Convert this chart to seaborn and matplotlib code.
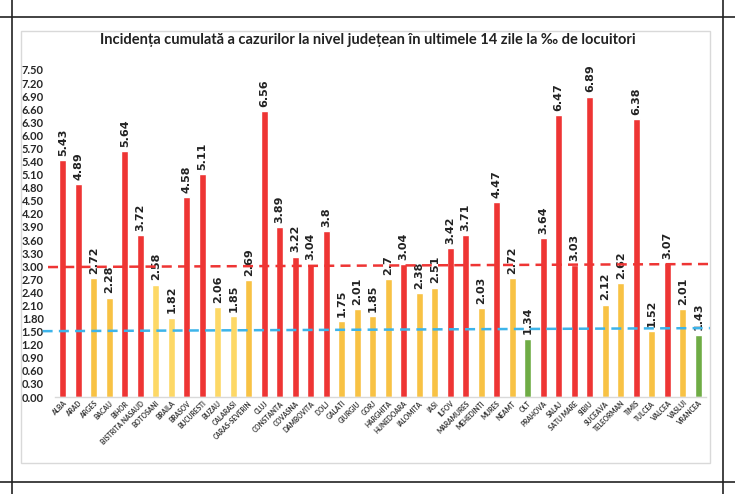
import matplotlib
matplotlib.use("Agg")
import matplotlib.pyplot as plt
from matplotlib.lines import Line2D
from matplotlib.patches import Rectangle
import seaborn as sns

# ── data ─────────────────────────────────────────────────────────────────────
JUDETE = [
    "ALBA", "ARAD", "ARGES", "BACAU", "BIHOR", "BISTRITA NASAUD", "BOTOSANI",
    "BRAILA", "BRASOV", "BUCURESTI", "BUZAU", "CALARASI", "CARAS-SEVERIN",
    "CLUJ", "CONSTANTA", "COVASNA", "DAMBOVITA", "DOLJ", "GALATI", "GIURGIU",
    "GORJ", "HARGHITA", "HUNEDOARA", "IALOMITA", "IASI", "ILFOV", "MARAMURES",
    "MEHEDINTI", "MURES", "NEAMT", "OLT", "PRAHOVA", "SALAJ", "SATU MARE",
    "SIBIU", "SUCEAVA", "TELEORMAN", "TIMIS", "TULCEA", "VALCEA", "VASLUI",
    "VRANCEA",
]
INCIDENTA = [
    5.43, 4.89, 2.72, 2.28, 5.64, 3.72, 2.58,
    1.82, 4.58, 5.11, 2.06, 1.85, 2.69,
    6.56, 3.89, 3.22, 3.04, 3.8, 1.75, 2.01,
    1.85, 2.7, 3.04, 2.38, 2.51, 3.42, 3.71,
    2.03, 4.47, 2.72, 1.34, 3.64, 6.47, 3.03,
    6.89, 2.12, 2.62, 6.38, 1.52, 3.07, 2.01,
    1.43,
]
# judete cu galben deschis in original
GALBEN_DESCHIS = ["BOTOSANI", "BRAILA", "BUZAU", "CALARASI"]

PRAG_ROSU = [2.98, 3.05]       # linia rosie (stanga, dreapta)
PRAG_ALBASTRU = [1.51, 1.58]   # linia albastra (stanga, dreapta)
Y_TICKS = [round(0.3 * i, 2) for i in range(26)]

# ── culori ───────────────────────────────────────────────────────────────────
ROSU = "#EE3534"
PORTOCALIU = "#F8C244"
GALBEN = "#FDD866"
VERDE = "#6FAC45"


def culoare(nume, v):
    if v >= 3.0:
        return ROSU
    if v < 1.5:
        return VERDE
    if nume in GALBEN_DESCHIS:
        return GALBEN
    return PORTOCALIU


culori = [culoare(n, v) for n, v in zip(JUDETE, INCIDENTA)]

sns.set_theme(style="white")
plt.rcParams["font.family"] = ["Lato", "DejaVu Sans"]

fig = plt.figure(figsize=(7.35, 4.94), dpi=100)
W, H = 735, 494
ax = fig.add_axes([55 / W, (H - 397) / H, (706 - 55) / W, (397 - 70) / H])

sns.barplot(x=JUDETE, y=INCIDENTA, hue=JUDETE, palette=culori,
            legend=False, width=0.42, saturation=1, ax=ax)

ax.set_ylim(0, 7.5)
ax.set_xlim(-0.5, len(JUDETE) - 0.5)
ax.set_yticks(Y_TICKS)
ax.set_yticklabels([f"{t:.2f}" for t in Y_TICKS], fontsize=8, fontweight="bold")
ax.tick_params(axis="y", length=0, pad=8)
ax.tick_params(axis="x", length=0, pad=2)
ax.set_xticks(range(len(JUDETE)))
ax.set_xticklabels(JUDETE, rotation=45, ha="right", rotation_mode="anchor",
                   fontsize=4.8, fontweight="bold", color="#333333")
for s in ["top", "right", "left"]:
    ax.spines[s].set_visible(False)
ax.spines["bottom"].set_color("#D9D9D9")
ax.spines["bottom"].set_linewidth(1)
ax.set_xlabel("")
ax.set_ylabel("")

# etichete valori
for cont in ax.containers:
    ax.bar_label(cont, labels=[f"{v:g}" for v in cont.datavalues],
                 rotation=90, padding=3, fontsize=8, family="DejaVu Sans",
                 fontweight="bold", color="#222222")

# linii prag
ax.plot([-0.95, 41.63], PRAG_ROSU, color="#EE3534", lw=1.8, ls=(0, (4, 2.5)),
        clip_on=False, zorder=5)
ax.plot([-1.3, 41.76], PRAG_ALBASTRU, color="#3DB4EA", lw=1.8,
        ls=(0, (4, 2.5)), clip_on=False, zorder=5)

# titlu
fig.text(368 / W, 1 - 40 / H,
         "Incidența cumulată a cazurilor la nivel județean în ultimele 14 zile la ‰ de locuitori",
         ha="center", va="center", fontsize=10.5, fontweight="bold", color="#222222")

# chenar gri al graficului
fig.patches.append(Rectangle((21 / W, 1 - 463 / H), (710 - 21) / W, (463 - 31) / H,
                             transform=fig.transFigure, fill=False,
                             edgecolor="#D9D9D9", lw=1))
# linii negre exterioare
for xs, ys in [([0, 1], [1 - 17 / H] * 2), ([0, 1], [1 - 482 / H] * 2),
               ([12 / W] * 2, [0, 1]), ([723 / W] * 2, [0, 1])]:
    fig.lines.append(Line2D(xs, ys, transform=fig.transFigure,
                            color="#222222", lw=1.2))

fig.savefig("out.png", dpi=100)
